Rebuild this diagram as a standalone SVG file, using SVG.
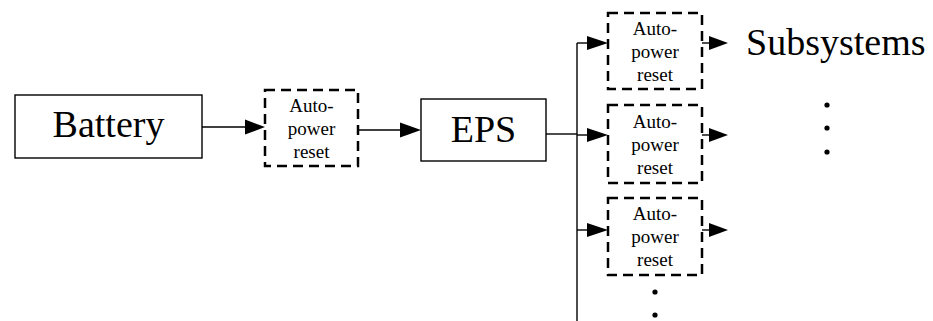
<svg xmlns="http://www.w3.org/2000/svg" width="933" height="321" viewBox="0 0 933 321">
<defs>
<style>
.solid{fill:#fff;stroke:#000;stroke-width:1.4}
.dash{fill:#fff;stroke:#000;stroke-width:2.5;stroke-dasharray:10 6}
.big{font-family:"Liberation Serif","Times New Roman",serif;font-size:38px;fill:#000}
.small{font-family:"Liberation Serif","Times New Roman",serif;font-size:19px;fill:#000;text-anchor:middle}
.ln{fill:none;stroke:#000;stroke-width:1.4}
.ah{fill:#000;stroke:none}
.dot{fill:#000}
</style>
</defs>
<rect width="933" height="321" fill="#fff"/>
<g id="connectors">
<line class="ln" x1="202" y1="127" x2="246" y2="127"/>
<polygon class="ah" points="245,119.5 265,127 245,134.5"/>
<line class="ln" x1="358" y1="130" x2="400" y2="130"/>
<polygon class="ah" points="400,122.5 421,130 400,137.5"/>
<line class="ln" x1="546" y1="134" x2="577" y2="134"/>
<line class="ln" x1="577" y1="43" x2="577" y2="321"/>
<line class="ln" x1="577" y1="43" x2="588" y2="43"/>
<polygon class="ah" points="587,36 608,43 587,50"/>
<line class="ln" x1="577" y1="135" x2="588" y2="135"/>
<polygon class="ah" points="587,128 608,135 587,142"/>
<line class="ln" x1="577" y1="230" x2="588" y2="230"/>
<polygon class="ah" points="587,223 608,230 587,237"/>
<line class="ln" x1="702" y1="43" x2="710" y2="43"/>
<polygon class="ah" points="709,36 728,43 709,50"/>
<line class="ln" x1="702" y1="135" x2="710" y2="135"/>
<polygon class="ah" points="709,128 728,135 709,142"/>
<line class="ln" x1="702" y1="230" x2="710" y2="230"/>
<polygon class="ah" points="709,223 728,230 709,237"/>
</g>
<g id="battery">
<rect class="solid" x="15" y="95" width="187" height="63"/>
<text class="big" x="108.5" y="137" text-anchor="middle">Battery</text>
</g>
<g id="reset-main">
<rect class="dash" x="265" y="90" width="93" height="76"/>
<text class="small" x="311.5" y="112">Auto-</text>
<text class="small" x="311.5" y="135">power</text>
<text class="small" x="311.5" y="158">reset</text>
</g>
<g id="eps">
<rect class="solid" x="421" y="99" width="125" height="62"/>
<text class="big" x="483.5" y="142" text-anchor="middle">EPS</text>
</g>
<g id="reset-1">
<rect class="dash" x="608" y="13" width="94" height="76"/>
<text class="small" x="655" y="35">Auto-</text>
<text class="small" x="655" y="58">power</text>
<text class="small" x="655" y="81">reset</text>
</g>
<g id="reset-2">
<rect class="dash" x="608" y="105" width="94" height="78"/>
<text class="small" x="655" y="128">Auto-</text>
<text class="small" x="655" y="151">power</text>
<text class="small" x="655" y="174">reset</text>
</g>
<g id="reset-3">
<rect class="dash" x="608" y="198" width="94" height="77"/>
<text class="small" x="655" y="220">Auto-</text>
<text class="small" x="655" y="243">power</text>
<text class="small" x="655" y="266">reset</text>
</g>
<g id="subsystems">
<text class="big" x="746" y="55">Subsystems</text>
</g>
<g id="ellipsis-right">
<circle class="dot" cx="827" cy="105" r="2.6"/>
<circle class="dot" cx="827" cy="128" r="2.6"/>
<circle class="dot" cx="827" cy="152" r="2.6"/>
</g>
<g id="ellipsis-bottom">
<circle class="dot" cx="655" cy="292" r="2.6"/>
<circle class="dot" cx="655" cy="315" r="2.6"/>
</g>
</svg>
